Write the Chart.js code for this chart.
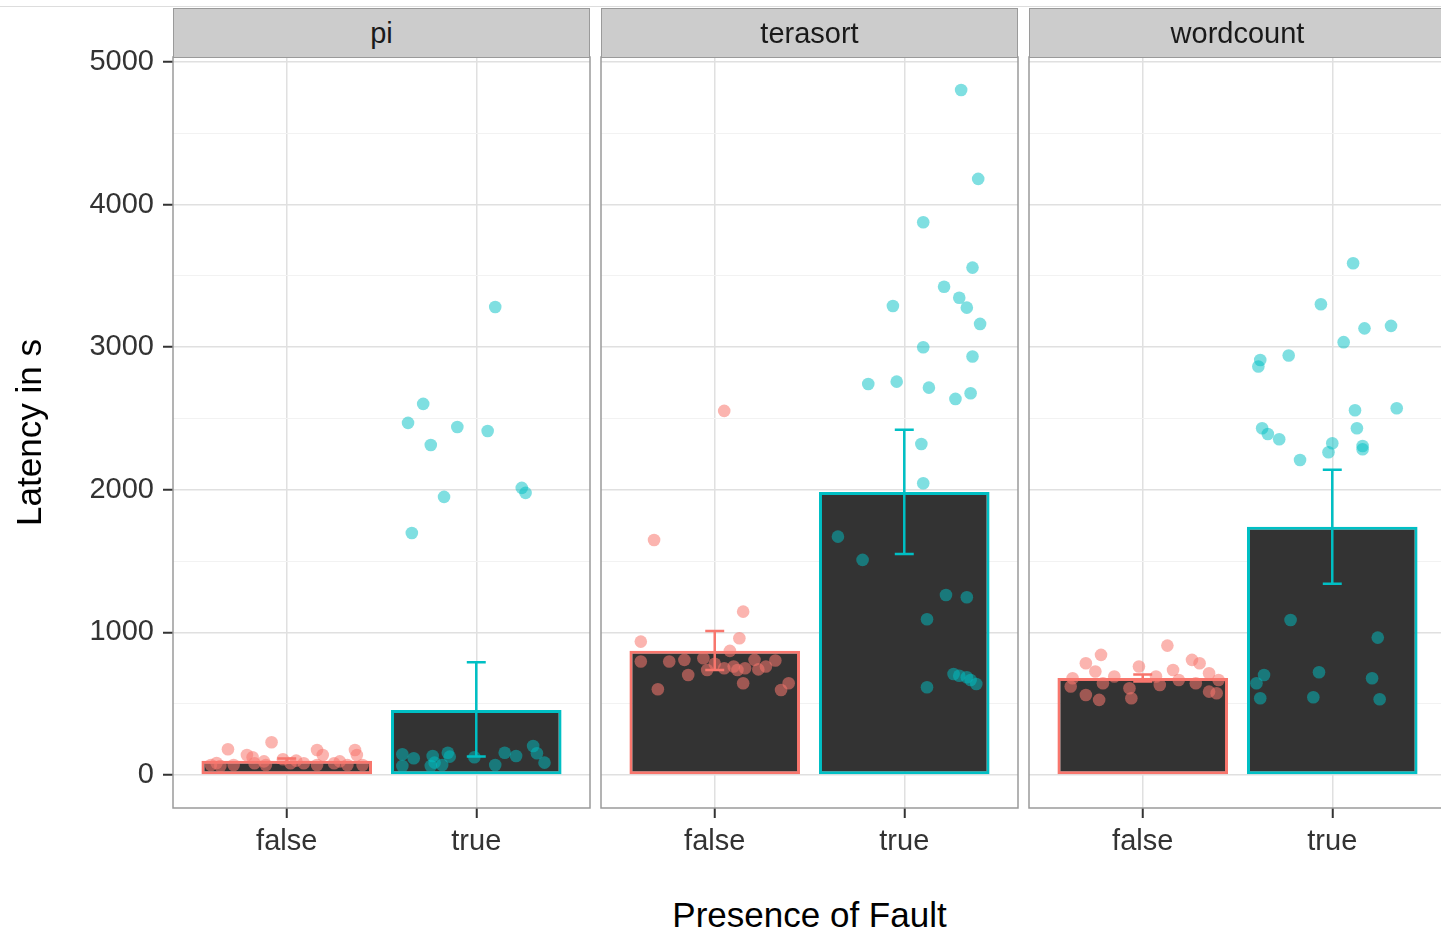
<!DOCTYPE html>
<html>
<head>
<meta charset="utf-8">
<title>Latency by presence of fault</title>
<script src="https://cdn.jsdelivr.net/npm/chart.js@4.4.1/dist/chart.umd.min.js"></script>
<style>
    html, body { margin: 0; padding: 0; background: #fff; overflow: hidden; }
    body { width: 1441px; height: 934px; position: relative; font-family: "Liberation Sans", Arial, sans-serif; }
    canvas { position: absolute; top: 0; }
    .topline { position: absolute; left: 0; top: 6px; width: 1441px; height: 1px; background: #dddddd; }
    .strip { position: absolute; top: 8px; height: 50px; width: 417px; background: #cccccc; border: 1px solid #9a9a9a; box-sizing: border-box; text-align: center; font-size: 29px; line-height: 48px; color: #1a1a1a; }
    #xTitle { position: absolute; left: 173px; width: 1273px; top: 895px; text-align: center; font-size: 35px; color: #000; }
</style>
</head>
<body>
<canvas id="facet0" width="592" height="870" style="left:0px"></canvas>
<canvas id="facet1" width="420" height="870" style="left:600px"></canvas>
<canvas id="facet2" width="420" height="870" style="left:1028px"></canvas>
<div class="topline"></div>
<div class="strip" style="left:173px" id="strip0"></div>
<div class="strip" style="left:601px" id="strip1"></div>
<div class="strip" style="left:1029px" id="strip2"></div>
<div id="xTitle">Presence of Fault</div>

<script>
const facets = ["pi", "terasort", "wordcount"];
const faultLevels = ["false", "true"];
const levelPos = [1, 2];
const yTickValues = [0, 500, 1000, 1500, 2000, 2500, 3000, 3500, 4000, 4500, 5000];

// bar heights and error bar ends (false, true)
const piMeans = [100, 455];
const piErrLow = [85, 130];
const piErrHigh = [115, 790];
const terasortMeans = [870, 1985];
const terasortErrLow = [735, 1550];
const terasortErrHigh = [1010, 2420];
const wordcountMeans = [680, 1740];
const wordcountErrLow = [655, 1340];
const wordcountErrHigh = [705, 2140];

// jittered runs
const piFalseX = [0.69, 0.92, 0.79, 0.82, 1.16, 1.19, 1.36, 1.37, 0.60, 0.65, 0.72, 0.83, 0.89, 0.98, 1.02, 1.09, 1.16, 1.25, 1.32, 1.40, 0.63, 0.88, 1.05, 1.28];
const piFalseY = [180, 229, 140, 124, 175, 140, 175, 140, 70, 63, 70, 82, 70, 110, 82, 82, 70, 82, 70, 70, 84, 95, 100, 95];
const piTrueX = [2.10, 1.64, 1.72, 1.76, 1.90, 2.06, 1.83, 1.66, 2.24, 2.26, 1.61, 1.61, 1.67, 1.77, 1.76, 1.78, 1.82, 1.85, 1.86, 1.99, 2.10, 2.15, 2.21, 2.30, 2.32, 2.36];
const piTrueY = [3282, 2469, 2602, 2314, 2440, 2412, 1950, 1697, 2013, 1978, 145, 63, 117, 133, 63, 86, 70, 156, 128, 124, 70, 156, 133, 203, 152, 86];

const terasortFalseX = [1.05, 0.68, 1.15, 0.61, 1.13, 1.08, 0.61, 0.76, 0.84, 0.94, 0.86, 0.70, 0.96, 1.05, 1.12, 1.16, 1.21, 1.27, 1.32, 1.15, 1.35, 1.39, 1.00, 1.10, 1.23];
const terasortFalseY = [2553, 1648, 1145, 935, 959, 870, 795, 795, 807, 818, 701, 601, 736, 748, 736, 748, 807, 760, 802, 643, 596, 643, 780, 760, 740];
const terasortTrueX = [2.30, 2.39, 2.10, 2.36, 2.21, 2.29, 2.33, 1.94, 2.40, 2.10, 2.36, 1.81, 1.96, 2.13, 2.27, 2.35, 2.09, 2.10, 1.65, 1.78, 2.22, 2.33, 2.12, 2.12, 2.26, 2.29, 2.33, 2.35, 2.38];
const terasortTrueY = [4804, 4180, 3876, 3558, 3424, 3347, 3277, 3289, 3163, 2999, 2934, 2742, 2758, 2716, 2637, 2677, 2321, 2046, 1671, 1508, 1262, 1246, 1092, 615, 708, 696, 685, 666, 638];

const wordcountFalseX = [1.13, 0.78, 0.70, 1.26, 1.30, 0.75, 0.98, 1.16, 0.85, 0.63, 1.35, 1.07, 0.62, 0.70, 0.77, 0.79, 0.93, 0.94, 1.09, 1.19, 1.35, 1.39, 1.28, 1.40];
const wordcountFalseY = [907, 842, 783, 807, 783, 725, 760, 736, 690, 678, 713, 690, 620, 561, 526, 643, 608, 538, 631, 666, 584, 573, 643, 666];
const wordcountTrueX = [2.11, 1.94, 2.17, 2.31, 2.06, 1.77, 1.62, 1.61, 2.12, 2.34, 1.63, 1.66, 1.72, 2.13, 2.00, 1.98, 2.16, 2.16, 1.83, 1.78, 2.24, 1.64, 1.60, 1.62, 1.93, 1.90, 2.21, 2.25];
const wordcountTrueY = [3589, 3301, 3132, 3149, 3035, 2941, 2910, 2864, 2558, 2572, 2431, 2391, 2354, 2431, 2326, 2263, 2307, 2284, 2209, 1087, 963, 701, 643, 538, 720, 545, 678, 531];

const falseColor = "#F8766D";
const trueColor = "#00BFC4";
const capHalf = 0.05;

const facetTable = [
    { means: piMeans, low: piErrLow, high: piErrHigh, fx: piFalseX, fy: piFalseY, tx: piTrueX, ty: piTrueY },
    { means: terasortMeans, low: terasortErrLow, high: terasortErrHigh, fx: terasortFalseX, fy: terasortFalseY, tx: terasortTrueX, ty: terasortTrueY },
    { means: wordcountMeans, low: wordcountErrLow, high: wordcountErrHigh, fx: wordcountFalseX, fy: wordcountFalseY, tx: wordcountTrueX, ty: wordcountTrueY },
];

Chart.defaults.font.family = "'Liberation Sans', Arial, sans-serif";

// grey frame round each panel, like theme_bw
const panelFrame = {
    id: "panelFrame",
    afterDraw(chart) {
        const a = chart.chartArea;
        const c = chart.ctx;
        c.save();
        c.strokeStyle = "#9a9a9a";
        c.lineWidth = 1.5;
        c.strokeRect(a.left, a.top, a.right - a.left, a.bottom - a.top);
        c.restore();
    },
};

function pairUp(xs, ys) {
    return xs.map((x, i) => ({ x: x, y: ys[i] }));
}

function errorPath(f, i) {
    const x = levelPos[i];
    const lo = f.low[i];
    const hi = f.high[i];
    return [
        { x: x - capHalf, y: hi }, { x: x + capHalf, y: hi }, { x: x, y: null },
        { x: x, y: hi }, { x: x, y: lo }, { x: x, y: null },
        { x: x - capHalf, y: lo }, { x: x + capHalf, y: lo },
    ];
}

// no automatic label room: the panel edges are fixed
function noScalePadding(s) {
    s.paddingTop = 0;
    s.paddingBottom = 0;
    s.paddingLeft = 0;
    s.paddingRight = 0;
}

function isMajor(c) {
    return c.tick && c.tick.value % 1000 === 0;
}

function buildFacet(idx) {
    const f = facetTable[idx];
    const showY = idx === 0;
    document.getElementById("strip" + idx).textContent = facets[idx];
    const ctx = document.getElementById("facet" + idx).getContext("2d");

    return new Chart(ctx, {
        type: "bar",
        data: {
            datasets: [
                {
                    type: "scatter",
                    data: pairUp(f.fx, f.fy),
                    backgroundColor: "rgba(248, 118, 109, 0.55)",
                    borderWidth: 0,
                    pointRadius: 6.3,
                    order: 0,
                },
                {
                    type: "scatter",
                    data: pairUp(f.tx, f.ty),
                    backgroundColor: "rgba(0, 191, 196, 0.5)",
                    borderWidth: 0,
                    pointRadius: 6.3,
                    order: 0,
                },
                {
                    type: "line",
                    data: errorPath(f, 0),
                    borderColor: falseColor,
                    borderWidth: 2.5,
                    pointRadius: 0,
                    spanGaps: false,
                    order: 1,
                },
                {
                    type: "line",
                    data: errorPath(f, 1),
                    borderColor: trueColor,
                    borderWidth: 2.5,
                    pointRadius: 0,
                    spanGaps: false,
                    order: 1,
                },
                {
                    type: "bar",
                    data: levelPos.map((x, i) => ({ x: x, y: f.means[i] })),
                    backgroundColor: "#333333",
                    borderColor: [falseColor, trueColor],
                    borderWidth: 3,
                    borderSkipped: false,
                    categoryPercentage: 0.9,
                    barPercentage: 1,
                    order: 2,
                },
            ],
        },
        options: {
            responsive: false,
            animation: false,
            events: [],
            layout: { autoPadding: false, padding: { top: 57, right: 2, left: showY ? 0 : 1, bottom: 0 } },
            plugins: { legend: { display: false }, tooltip: { enabled: false } },
            scales: {
                x: {
                    type: "linear",
                    min: 0.4,
                    max: 2.6,
                    offset: false,
                    afterBuildTicks: (s) => { s.ticks = levelPos.map((v) => ({ value: v })); },
                    afterFit: (s) => { s.height = 62; noScalePadding(s); },
                    ticks: {
                        callback: (v) => faultLevels[levelPos.indexOf(v)],
                        font: { size: 29 },
                        color: "#333333",
                        padding: 7,
                        maxRotation: 0,
                        autoSkip: false,
                    },
                    grid: { offset: false, color: "#e0e0e0", lineWidth: 1.5, tickLength: 10, tickColor: "#333333", tickWidth: 2 },
                    border: { display: false },
                },
                y: {
                    min: -232,
                    max: 5035,
                    afterBuildTicks: (s) => { s.ticks = yTickValues.map((v) => ({ value: v })); },
                    afterFit: (s) => { s.width = showY ? 173 : 0; noScalePadding(s); },
                    ticks: {
                        display: showY,
                        callback: (v) => (v % 1000 === 0 ? String(v) : ""),
                        font: { size: 29 },
                        color: "#333333",
                        padding: 9,
                        autoSkip: false,
                    },
                    grid: {
                        color: (c) => (isMajor(c) ? "#e0e0e0" : "#f2f2f2"),
                        lineWidth: (c) => (isMajor(c) ? 1.5 : 1),
                        drawTicks: showY,
                        tickLength: 10,
                        tickWidth: 2,
                        tickColor: (c) => (isMajor(c) ? "#333333" : "rgba(0,0,0,0)"),
                    },
                    border: { display: false },
                    title: {
                        display: showY,
                        text: "Latency in s",
                        font: { size: 35 },
                        color: "#000000",
                        padding: { top: 10, bottom: 0 },
                    },
                },
            },
        },
        plugins: [panelFrame],
    });
}

document.addEventListener("DOMContentLoaded", function () {
    facets.forEach((name, i) => buildFacet(i));
});
</script>
</body>
</html>
